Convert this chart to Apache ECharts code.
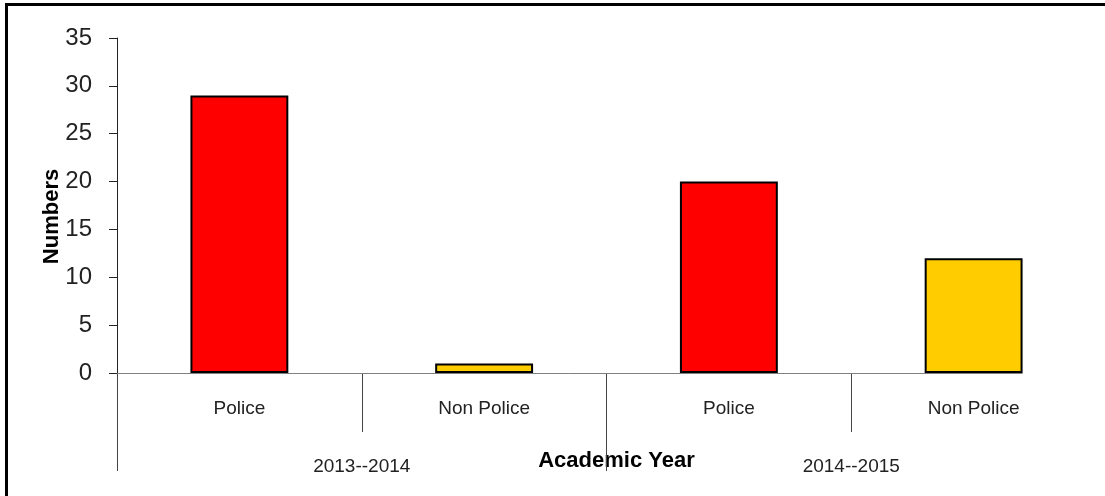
<!DOCTYPE html>
<html>
<head>
<meta charset="utf-8">
<script src="https://cdn.jsdelivr.net/npm/echarts@6/dist/echarts.min.js"></script>
<style>
  html, body { margin: 0; padding: 0; background: #fff; overflow: hidden; }
  #chart { width: 1105px; height: 496px; }
</style>
</head>
<body>
<div id="chart"></div>
<script>
// Students per academic year, split by background
const categories = ['Police', 'Non Police', 'Police', 'Non Police'];
const years = ['2013--2014', '2014--2015'];
const values = [29, 1, 20, 12];
const yTicks = { min: 0, max: 35, step: 5 };

const FONT = "'Liberation Sans', Arial, sans-serif";
const fillFor = { 'Police': '#FF0000', 'Non Police': '#FFCC00' };
const BAR_SHARE = 0.4;

// Boundary positions between the four bars (0..4) used to draw the divider ticks
const boundaries = categories.map((_, i) => String(i)).concat(String(categories.length));

const chart = echarts.init(document.getElementById('chart'), null, { renderer: 'canvas' });

chart.setOption({
  animation: false,
  backgroundColor: '#ffffff',
  grid: { left: 117, right: 9, top: 38, bottom: 123, containLabel: false },
  xAxis: [
    {
      type: 'category',
      data: categories,
      boundaryGap: true,
      axisLine: { show: false },
      axisTick: { show: false },
      axisLabel: { margin: 26, fontFamily: FONT, fontSize: 19, color: '#222' },
      name: 'Academic Year',
      nameLocation: 'middle',
      nameGap: 77,
      nameMoveOverlap: false,
      nameTextStyle: { fontFamily: FONT, fontSize: 22, fontWeight: 'bold', color: '#000', padding: [0, 0, 0, 20] }
    },
    {
      // short dividers between the bars of one year
      type: 'category',
      data: boundaries,
      boundaryGap: false,
      position: 'bottom',
      axisLine: { show: false },
      axisLabel: { show: false },
      axisTick: {
        show: true, length: 59,
        interval: (i) => i === 1 || i === 3,
        lineStyle: { color: '#444', width: 1 }
      }
    },
    {
      // long dividers separating the years
      type: 'category',
      data: boundaries,
      boundaryGap: false,
      position: 'bottom',
      axisLine: { show: false },
      axisLabel: { show: false },
      axisTick: {
        show: true, length: 98,
        interval: (i) => i === 0 || i === 2,
        lineStyle: { color: '#444', width: 1 }
      }
    },
    {
      // year labels
      type: 'category',
      data: years,
      boundaryGap: true,
      position: 'bottom',
      axisLine: { show: false },
      axisTick: { show: false },
      axisLabel: { margin: 84, fontFamily: FONT, fontSize: 19, color: '#222' }
    }
  ],
  yAxis: {
    type: 'value',
    min: yTicks.min,
    max: yTicks.max,
    interval: yTicks.step,
    axisLine: { show: true, lineStyle: { color: '#222', width: 1 } },
    axisTick: { show: true, length: 8, lineStyle: { color: '#222' } },
    splitLine: { show: false },
    axisLabel: { margin: 25, fontFamily: FONT, fontSize: 24, color: '#222' },
    name: 'Numbers',
    nameLocation: 'middle',
    nameGap: 54,
    nameMoveOverlap: false,
    nameTextStyle: { fontFamily: FONT, fontSize: 22, fontWeight: 'bold', color: '#000', padding: [0, 22, 0, 0] }
  },
  series: [{
    type: 'bar',
    xAxisIndex: 0,
    data: values.map((v, i) => ({
      value: v,
      itemStyle: { color: fillFor[categories[i]] }
    })),
    barWidth: (BAR_SHARE * 100) + '%',
    itemStyle: { borderColor: '#000', borderWidth: 2 }
  }]
});

// Baseline: runs from the plot's left edge to the right side of the last bar
const c0 = chart.convertToPixel({ xAxisIndex: 0 }, 0);
const c1 = chart.convertToPixel({ xAxisIndex: 0 }, 1);
const cLast = chart.convertToPixel({ xAxisIndex: 0 }, categories.length - 1);
const band = c1 - c0;
const yZero = Math.round(chart.convertToPixel({ yAxisIndex: 0 }, 0)) + 0.5;

chart.setOption({
  graphic: [
    {
      type: 'line',
      z: 1,
      silent: true,
      shape: { x1: c0 - band / 2, y1: yZero, x2: cLast + band * BAR_SHARE / 2, y2: yZero },
      style: { stroke: '#808080', lineWidth: 1 }
    },
    {
      type: 'rect',
      z: 100,
      silent: true,
      shape: { x: 6.5, y: 4.5, width: 1300, height: 700 },
      style: { fill: 'none', stroke: '#000', lineWidth: 3 }
    }
  ]
});
</script>
</body>
</html>
